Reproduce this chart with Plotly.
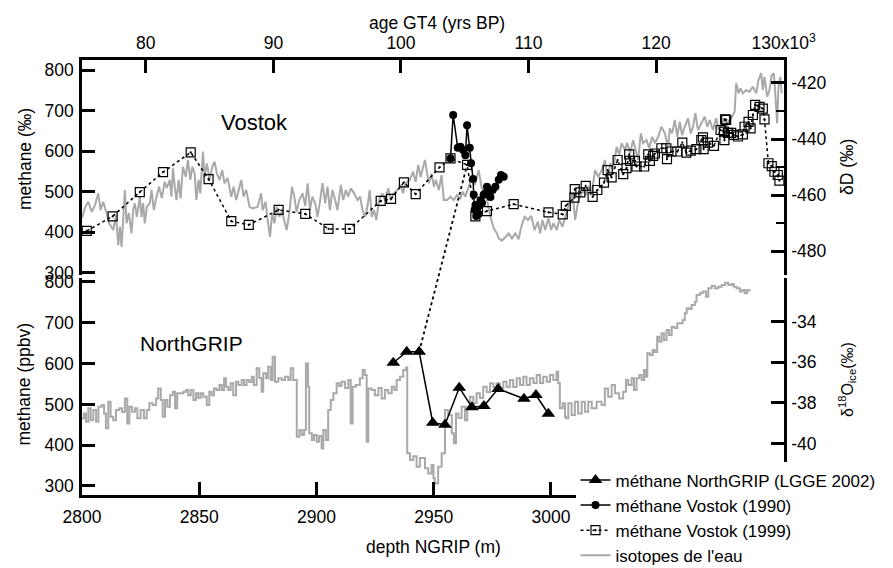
import plotly.graph_objects as go

# ---------------- data ----------------
# Vostok methane 1999 (age GT4 kyr BP, methane)
v99_age = [75.37, 77.40, 79.53, 81.35, 83.52, 84.92, 86.70, 88.07, 90.41, 92.50, 94.32, 95.99,
           98.41, 99.22, 100.23, 101.15, 103.02, 103.88, 105.18, 105.83, 106.74, 108.83, 111.56,
           112.68, 112.92, 113.59, 113.62, 114.06, 114.48, 115.02, 115.39, 115.91, 116.20, 116.51,
           116.98, 117.42, 117.68, 117.89, 117.95, 118.34, 118.46, 119.06, 119.38, 119.51, 119.77,
           119.90, 120.41, 120.80, 120.85, 121.20, 121.66, 122.05, 122.37, 122.71, 123.15, 123.54,
           123.67, 123.72, 124.06, 124.53, 125.05, 125.31, 125.35, 125.40, 125.49, 125.62, 125.88,
           126.09, 126.41, 126.80, 126.93, 127.24, 127.40, 127.58, 127.76, 128.10, 128.36, 128.49,
           128.80, 129.06, 129.27, 129.53, 129.66]
v99_meth = [403, 439, 499, 548, 597, 531, 427, 418, 455, 445, 408, 408,
            477, 482, 523, 494, 560, 582, 566, 439, 452, 469, 449,
            444, 465, 485, 506, 498, 514, 487, 504, 522, 553, 535,
            578, 543, 558, 592, 576, 576, 562, 562, 592, 576, 588,
            594, 607, 607, 580, 599, 599, 621, 596, 601, 605, 627,
            634, 605, 621, 613, 652, 648, 627, 678, 677, 645, 645,
            640, 636, 641, 660, 672, 656, 689, 714, 709, 705, 678,
            570, 563, 549, 541, 527]

# Vostok methane 1990
v90_age = [103.88, 104.09, 104.45, 104.66, 104.87, 105.05, 105.18, 105.39, 105.49, 105.65, 105.70,
           105.77, 105.84, 105.90, 105.96, 106.02, 106.09, 106.16, 106.23, 106.35, 106.48, 106.62,
           106.74, 106.88, 107.01, 107.19, 107.40, 107.66, 107.84, 108.05]
v90_meth = [582, 689, 608, 611, 603, 590, 664, 608, 570, 531, 492,
            455, 467, 440, 450, 462, 445, 467, 479, 472, 492, 496,
            512, 500, 487, 504, 512, 529, 541, 537]

# NorthGRIP methane (LGGE 2002): depth (m), methane (ppbv)
ng_depth = [2932.75, 2938.5, 2943.8, 2949.6, 2954.8, 2960.9, 2966.3, 2971.4, 2977.5, 2988.5, 2993.6, 2998.9]
ng_meth = [602, 629, 629, 455, 450, 541, 493, 496, 538, 514, 523, 477]

# Vostok deltaD vs age
vd_age = [75.00, 75.23, 75.49, 75.76, 76.02, 76.27, 76.46, 76.66, 76.93, 77.13, 77.45, 77.66, 77.84,
          77.97, 78.10, 78.23, 78.36, 78.49, 78.67, 78.88, 79.01, 79.14, 79.30, 79.53, 79.66, 79.79,
          79.92, 80.08, 80.31, 80.45, 80.63, 80.84, 81.04, 81.25, 81.48, 81.64, 81.88, 82.01, 82.13,
          82.27, 82.40, 82.58, 82.73, 82.91, 83.13, 83.30, 83.49, 83.65, 83.83, 83.96, 84.14, 84.27,
          84.48, 84.61, 84.79, 85.00, 85.21, 85.39, 85.57, 85.78, 85.99, 86.17, 86.41, 86.70, 86.88,
          87.09, 87.27, 87.48, 87.66, 87.87, 88.13, 88.38, 88.77, 89.04, 89.16, 89.38, 89.55, 89.74,
          89.90, 90.08, 90.26, 90.47, 90.68, 90.86, 91.04, 91.25, 91.46, 91.64, 91.82, 92.03, 92.29,
          92.50, 92.68, 92.87, 93.05, 93.28, 93.46, 93.67, 93.85, 94.06, 94.24, 94.43, 94.63, 94.84,
          95.02, 95.29, 95.47, 95.68, 95.86, 96.07, 96.33, 96.59, 96.80, 96.98, 97.19, 97.37, 97.55,
          97.71, 97.89, 98.07, 98.28, 98.54, 98.75, 99.01, 99.20, 99.45, 99.71, 99.98, 100.16, 100.31,
          100.49, 100.70, 100.94, 101.15, 101.35, 101.54, 101.72, 101.88, 102.05, 102.19, 102.40,
          102.58, 102.73, 102.97, 103.18, 103.36, 103.62, 103.88, 104.14, 104.40, 104.66, 104.84,
          105.05, 105.31, 105.57, 105.78, 106.09, 106.30, 106.48, 106.74, 107.01, 107.27, 107.52,
          107.66, 107.91, 108.18, 108.44, 108.70, 108.96, 109.22, 109.43, 109.69, 109.95, 110.21,
          110.47, 110.73, 110.91, 111.09, 111.30, 111.56, 111.77, 111.95, 112.21, 112.40, 112.66,
          112.87, 113.07, 113.26, 113.44, 113.65, 113.91, 114.10, 114.30, 114.50, 114.69, 114.95,
          115.21, 115.47, 115.73, 115.99, 116.20, 116.41, 116.64, 116.90, 117.11, 117.29, 117.55,
          117.73, 117.95, 118.20, 118.40, 118.59, 118.80, 118.98, 119.24, 119.45, 119.69, 119.90,
          120.16, 120.41, 120.68, 120.94, 121.07, 121.25, 121.46, 121.66, 121.85, 122.03, 122.24,
          122.50, 122.71, 122.89, 123.07, 123.28, 123.54, 123.80, 124.01, 124.20, 124.45, 124.71,
          124.90, 125.10, 125.31, 125.57, 125.88, 126.15, 126.27, 126.46, 126.62, 126.80, 127.05,
          127.32, 127.58, 127.84, 128.02, 128.23, 128.36, 128.49, 128.70, 128.88, 129.06, 129.22,
          129.32, 129.48, 129.59, 129.74, 129.84]
vd_dD = [-468.2, -464.6, -462.4, -466.0, -463.6, -459.4, -465.4, -462.4, -466.5, -470.1, -472.5, -467.1, -477.9,
         -471.3, -478.5, -466.5, -458.2, -470.1, -466.4, -473.7, -465.4, -463.0, -467.8, -460.6, -467.8, -462.9,
         -470.1, -464.2, -463.0, -458.2, -465.4, -460.6, -457.0, -461.1, -455.3, -457.5, -454.6, -460.6, -450.5,
         -457.0, -461.8, -454.6, -461.2, -449.9, -453.5, -447.5, -454.6, -449.9, -452.3, -461.8, -454.6, -459.4,
         -444.5, -453.5, -448.7, -454.6, -449.9, -448.1, -452.3, -454.6, -451.1, -455.8, -453.9, -460.6, -457.0,
         -461.8, -458.2, -454.6, -460.6, -458.2, -464.2, -464.8, -464.2, -459.4, -465.4, -462.4, -468.9, -474.9,
         -466.5, -470.1, -464.2, -467.8, -466.0, -468.9, -472.5, -466.5, -457.0, -460.6, -466.0, -461.8, -459.4,
         -463.9, -455.8, -465.4, -460.6, -463.0, -467.8, -461.8, -455.8, -463.0, -457.0, -465.4, -458.2, -461.8,
         -465.4, -456.4, -461.8, -458.2, -460.6, -457.6, -459.4, -461.8, -460.6, -465.4, -467.8, -464.2, -458.2,
         -467.8, -465.4, -468.9, -461.8, -459.4, -461.8, -457.6, -461.8, -459.4, -458.2, -456.4, -459.4, -456.4,
         -455.3, -454.6, -451.7, -455.3, -449.3, -453.5, -450.5, -447.5, -452.3, -455.8, -452.3,
         -457.0, -454.6, -458.2, -452.9, -461.8, -461.8, -460.6, -461.8, -460.0, -461.2, -458.8,
         -460.6, -457.0, -453.5, -456.4, -451.1, -457.0, -459.4, -461.8, -467.8, -471.9, -473.7,
         -475.5, -476.3, -475.1, -473.7, -475.5, -473.7, -475.8, -471.3, -467.8, -468.9, -467.5,
         -472.5, -469.5, -473.7, -468.9, -472.5, -468.3, -472.5, -470.1, -472.5, -468.9, -471.3,
         -467.8, -464.8, -462.4, -459.4, -468.9, -461.8, -460.0, -458.2, -460.0, -457.0, -459.4,
         -451.1, -453.5, -451.1, -447.5, -454.6, -448.6, -451.1, -442.8, -445.7, -441.5, -443.9,
         -441.4, -445.1, -440.4, -443.9, -447.5, -438.0, -441.5, -440.4, -443.2, -439.2, -441.5,
         -439.2, -435.6, -438.0, -442.8, -436.2, -438.0, -433.2, -439.2, -433.8, -438.6, -435.6,
         -432.6, -438.0, -435.6, -430.8, -436.8, -434.4, -432.0, -435.6, -433.2, -436.8, -432.6,
         -436.8, -435.6, -432.6, -434.4, -432.6, -430.3, -420.1, -423.7, -421.9, -423.7, -422.5,
         -423.1, -421.3, -423.7, -418.9, -416.5, -422.5, -417.8, -424.9, -422.5, -417.1, -416.5,
         -422.5, -434.4, -421.3, -417.8, -423.7]

# NorthGRIP d18O of ice vs depth
ni_depth = [2800.0, 2800.85, 2801.7, 2802.7, 2803.7, 2804.8, 2806.0, 2807.0, 2808.4, 2809.4, 2810.2, 2811.2,
            2812.2, 2813.3, 2814.5, 2815.9, 2817.1, 2818.3, 2819.3, 2820.2, 2821.3, 2822.6, 2823.6, 2825.0,
            2826.4, 2827.6, 2828.7, 2830.1, 2831.6, 2832.5, 2833.6, 2834.4, 2835.4, 2836.4, 2837.5, 2838.7,
            2839.7, 2840.6, 2841.8, 2843.2, 2844.4, 2845.3, 2846.4, 2847.5, 2848.6, 2849.6, 2850.6, 2851.7,
            2853.2, 2854.3, 2855.3, 2856.3, 2857.4, 2858.6, 2859.6, 2860.6, 2861.4, 2862.4, 2863.4, 2864.5,
            2865.7, 2866.7, 2868.1, 2869.1, 2870.2, 2871.3, 2872.4, 2873.3, 2874.5, 2875.6, 2876.6, 2877.3,
            2878.5, 2879.4, 2880.5, 2881.3, 2882.3, 2883.7, 2885.2, 2886.6, 2888.0, 2889.0, 2890.1, 2891.0,
            2891.6, 2892.7, 2893.7, 2894.7, 2895.5, 2896.4, 2896.9, 2898.0, 2898.9, 2900.1, 2901.1, 2902.2,
            2902.9, 2904.0, 2905.0, 2906.1, 2907.2, 2908.6, 2909.7, 2910.7, 2912.2, 2913.6, 2914.6, 2915.4,
            2916.8, 2918.5, 2919.7, 2920.6, 2921.4, 2922.1, 2923.5, 2924.9, 2926.4, 2927.8, 2929.2, 2930.6,
            2932.1, 2933.2, 2934.2, 2935.6, 2937.0, 2938.2, 2938.7, 2939.9, 2941.3, 2942.7, 2944.1, 2946.3,
            2947.7, 2949.1, 2949.9, 2950.5, 2951.9, 2953.4, 2954.8, 2956.2, 2957.7, 2958.6, 2959.5, 2960.6,
            2961.9, 2963.3, 2964.3, 2965.5, 2966.9, 2968.3, 2969.7, 2971.1, 2972.6, 2974.0, 2975.4, 2976.8,
            2978.2, 2979.7, 2981.1, 2982.5, 2983.9, 2985.4, 2986.8, 2988.2, 2989.6, 2991.0, 2992.5, 2993.9,
            2995.3, 2996.7, 2998.2, 2999.6, 3001.0, 3002.4, 3003.1, 3003.8, 3005.0, 3006.0, 3006.4, 3007.4,
            3008.8, 3010.2, 3011.6, 3013.1, 3014.5, 3015.9, 3017.4, 3019.5, 3021.6, 3023.0, 3024.4, 3025.9,
            3027.3, 3029.1, 3030.8, 3032.0, 3033.0, 3034.4, 3035.4, 3036.5, 3037.7, 3038.7, 3039.7, 3040.5,
            3041.1, 3042.2, 3043.4, 3044.3, 3045.3, 3046.2, 3047.2, 3048.2, 3049.3, 3050.4, 3051.5, 3052.7,
            3053.9, 3055.0, 3056.2, 3057.1, 3057.9, 3058.8, 3060.0, 3061.4, 3062.1, 3063.5, 3064.7, 3066.1,
            3067.1, 3068.5, 3069.9, 3071.3, 3072.8, 3074.2, 3075.6, 3077.1, 3078.0, 3079.2, 3080.6, 3081.7,
            3082.7, 3083.7, 3084.6]
ni_d18O = [-38.76, -38.52, -38.93, -38.27, -38.85, -38.35, -38.93, -38.19, -38.11, -38.52, -39.25, -37.94,
           -38.68, -38.85, -38.35, -38.27, -38.45, -37.78, -39.01, -38.19, -38.44, -38.27, -38.76, -38.35,
           -38.76, -38.35, -38.02, -38.11, -37.78, -37.29, -37.86, -38.68, -37.86, -38.19, -37.62, -37.45,
           -38.27, -37.53, -37.53, -37.45, -37.37, -37.62, -37.37, -37.86, -37.53, -37.76, -37.53, -37.70,
           -38.11, -37.45, -37.62, -37.29, -37.37, -37.12, -37.37, -36.79, -37.21, -37.37, -37.04, -37.62,
           -36.96, -37.12, -36.88, -37.12, -36.88, -36.98, -36.72, -37.12, -36.30, -36.78, -37.45, -36.55,
           -36.79, -36.22, -36.88, -35.73, -36.96, -36.79, -36.88, -36.72, -36.88, -36.30, -36.88, -36.88,
           -39.67, -39.34, -39.58, -39.34, -36.06, -37.21, -39.50, -39.83, -39.58, -39.91, -39.63, -40.24,
           -39.34, -39.83, -38.35, -37.86, -37.53, -37.04, -37.17, -36.96, -37.27, -36.88, -39.01, -37.21,
           -37.12, -36.79, -36.39, -36.63, -39.91, -37.29, -37.37, -37.62, -37.27, -37.78, -37.37, -37.53,
           -37.21, -37.37, -36.88, -36.72, -36.39, -36.26, -40.48, -40.81, -40.62, -41.14, -40.71, -41.21,
           -41.47, -41.06, -41.71, -41.96, -41.14, -40.48, -38.35, -38.60, -39.50, -39.99, -38.52, -38.75,
           -38.19, -38.85, -38.19, -37.70, -38.01, -37.53, -37.76, -37.21, -37.47, -37.04, -37.22, -37.04,
           -37.27, -36.96, -37.22, -36.88, -37.22, -36.79, -37.12, -36.72, -37.12, -36.79, -37.02, -36.63,
           -37.02, -36.72, -36.96, -36.63, -36.88, -36.47, -37.04, -38.27, -38.02, -38.68, -38.76, -38.02,
           -38.60, -37.94, -38.52, -37.94, -38.44, -37.94, -38.27, -37.94, -38.11, -37.29, -37.70, -37.12,
           -37.53, -37.78, -37.45, -36.88, -37.12, -36.79, -37.37, -36.79, -36.63, -36.88, -36.39, -36.72,
           -35.56, -35.65, -35.40, -35.50, -34.75, -34.99, -34.58, -34.91, -34.42, -34.66, -34.26, -34.32,
           -34.09, -34.09, -33.93, -33.60, -33.35, -33.39, -33.19, -33.03, -32.70, -32.61, -32.53, -32.78,
           -32.37, -32.25, -32.37, -32.29, -32.20, -32.09, -32.20, -32.16, -32.29, -32.37, -32.53, -32.45,
           -32.61, -32.45, -32.53]

depth_ticks = [2800, 2850, 2900, 2950, 3000]
age_ticks = [80, 90, 100, 110, 120, 130]
age_ticktext = ["80", "90", "100", "110", "120", "130x10<sup>3</sup>"]
methane_ticks = [300, 400, 500, 600, 700, 800]
dD_ticks = [-480, -460, -440, -420]
dD_ticktext = ["-480", "-460", "-440", "-420"]
d18O_ticks = [-40, -38, -36, -34]
d18O_ticktext = ["-40", "-38", "-36", "-34"]

# ---------------- layout constants ----------------
FONT = "Liberation Sans, Arial, sans-serif"
depth_range = [2800, 3099.4]
age_range = [75, 130.02]
top_meth_range = [294.3, 824.7]
dD_range = [-488.57, -411.79]
bot_meth_range = [277.9, 809.8]
d18O_range = [-42.53, -31.86]
top_dom = [0.5057, 1.0]
bot_dom = [0.0, 0.4989]

GREY = "#a9a9a9"

fig = go.Figure()

# isotopes (base axes, drawn underneath)
fig.add_trace(go.Scatter(x=vd_age, y=vd_dD, xaxis="x2", yaxis="y3", mode="lines",
                         line=dict(color=GREY, width=2), name="isotopes de l'eau",
                         legendrank=4))
fig.add_trace(go.Scatter(x=ni_depth, y=ni_d18O, xaxis="x", yaxis="y", mode="lines",
                         line=dict(color=GREY, width=2, shape="hv"), showlegend=False))

# methane
fig.add_trace(go.Scatter(x=ng_depth, y=ng_meth, xaxis="x", yaxis="y2", mode="lines+markers",
                         line=dict(color="black", width=1.5),
                         marker=dict(symbol="triangle-up", size=12, color="black"),
                         name="méthane NorthGRIP (LGGE 2002)", legendrank=1))
fig.add_trace(go.Scatter(x=v90_age, y=v90_meth, xaxis="x2", yaxis="y4", mode="lines+markers",
                         line=dict(color="black", width=1.5),
                         marker=dict(symbol="circle", size=8, color="black"),
                         name="méthane Vostok (1990)", legendrank=2))
fig.add_trace(go.Scatter(x=v99_age, y=v99_meth, xaxis="x2", yaxis="y4", mode="lines+markers",
                         line=dict(color="black", width=1.5, dash="dot"),
                         marker=dict(symbol="square-open-dot", size=9, color="black",
                                     line=dict(width=1.2, color="black")),
                         name="méthane Vostok (1999)", legendrank=3))

axis_common = dict(showline=True, linecolor="black", linewidth=2.5, ticks="inside",
                   ticklen=13, tickwidth=2.5, tickcolor="black", showgrid=False,
                   zeroline=False, tickfont=dict(family=FONT, size=17.5, color="black"))

fig.update_layout(
    xaxis=dict(domain=[0, 1], range=depth_range, anchor="y", side="bottom",
               tickvals=depth_ticks, ticklabelstandoff=4, **axis_common),
    xaxis2=dict(domain=[0, 1], range=age_range, anchor="y3", side="top",
                tickvals=age_ticks, ticktext=age_ticktext, ticklabelstandoff=1, **axis_common),
    yaxis=dict(domain=bot_dom, range=d18O_range, anchor="x", side="right",
               tickvals=d18O_ticks, ticktext=d18O_ticktext, ticklabelstandoff=1, **axis_common),
    yaxis2=dict(range=bot_meth_range, overlaying="y", anchor="x", side="left",
                tickvals=methane_ticks, ticklabelstandoff=2, **axis_common),
    yaxis3=dict(domain=top_dom, range=dD_range, anchor="x2", side="right",
                tickvals=dD_ticks, ticktext=dD_ticktext, ticklabelstandoff=1,
                minor=dict(dtick=10, tick0=-480, ticks="inside", ticklen=8, tickwidth=2,
                           tickcolor="black"),
                **axis_common),
    yaxis4=dict(range=top_meth_range, overlaying="y3", anchor="x2", side="left",
                tickvals=methane_ticks, ticklabelstandoff=2, **axis_common),
)


def to_paper(v, rng, dom):
    return dom[0] + (v - rng[0]) / (rng[1] - rng[0]) * (dom[1] - dom[0])


# tie line between NorthGRIP methane point and Vostok methane point
tie_ng = 2      # index in ng arrays
tie_v = 18      # index in v99 arrays
fig.add_shape(type="line", xref="paper", yref="paper",
              x0=to_paper(ng_depth[tie_ng], depth_range, [0, 1]),
              y0=to_paper(ng_meth[tie_ng], bot_meth_range, bot_dom),
              x1=to_paper(v99_age[tie_v], age_range, [0, 1]),
              y1=to_paper(v99_meth[tie_v], top_meth_range, top_dom),
              line=dict(color="black", width=1.8, dash="dot"))

ann_font = dict(family=FONT, color="black")
annotations = [
    dict(text="Vostok", x=0.2464, y=0.8559, font=dict(size=22, **ann_font)),
    dict(text="NorthGRIP", x=0.1563, y=0.3487, font=dict(size=21, **ann_font)),
    dict(text="methane (‰)", x=-0.0812, y=0.7724, textangle=-90, font=dict(size=17.5, **ann_font)),
    dict(text="methane (ppbv)", x=-0.0840, y=0.254, textangle=-90, font=dict(size=17.5, **ann_font)),
    dict(text="δD (‰)", x=1.0897, y=0.754, textangle=-90, font=dict(size=17.5, **ann_font)),
    dict(text="δ<sup>18</sup>O<sub>ice</sub>(‰)", x=1.0897, y=0.2667, textangle=-90,
         font=dict(size=16, **ann_font)),
    dict(text="depth NGRIP (m)", x=0.5, y=-0.1195, font=dict(size=17.5, **ann_font)),
    dict(text="age GT4 (yrs BP)", x=0.5064, y=1.0862, font=dict(size=17.5, **ann_font)),
]
for a in annotations:
    a.update(xref="paper", yref="paper", showarrow=False, xanchor="center", yanchor="middle")

fig.update_layout(
    annotations=annotations,
    width=893, height=568,
    margin=dict(l=82, r=109, t=60, b=73, autoexpand=False),
    paper_bgcolor="white", plot_bgcolor="rgba(0,0,0,0)",
    font=dict(family=FONT, size=17.5, color="black"),
    legend=dict(x=0.703, y=0.075, xanchor="left", yanchor="top", bgcolor="white",
                font=dict(family=FONT, size=17, color="black"), tracegroupgap=0,
                itemwidth=30, borderwidth=0),
    showlegend=True,
)

fig.write_html("out.html", config={"displayModeBar": False},
               post_script="document.body.style.margin='0px';document.body.style.padding='0px';")
